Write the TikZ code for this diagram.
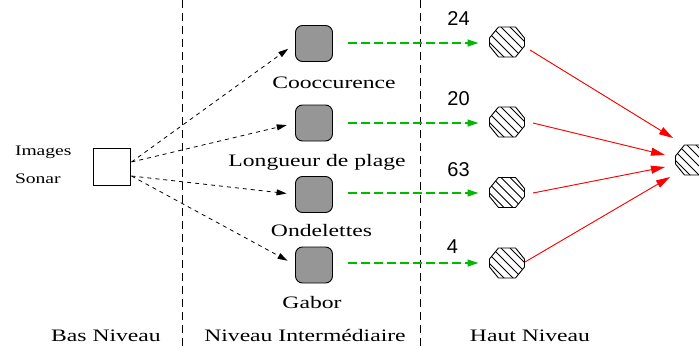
\documentclass[tikz,border=0pt]{standalone}
\usepackage{fontspec}
\setmainfont{Liberation Serif}[FakeStretch=1.35]
\newfontfamily\numfont{Liberation Sans}
\usetikzlibrary{arrows.meta,calc}
\definecolor{greyfill}{RGB}{150,150,150}
\definecolor{arrowgreen}{RGB}{0,185,0}
\definecolor{arrowred}{RGB}{255,0,0}
\begin{document}
\begin{tikzpicture}[x=1pt,y=-1pt,
  every node/.style={inner sep=0pt, outer sep=0pt},
  lbl/.style={font=\fontsize{17.5}{20}\selectfont, anchor=base},
  smalllbl/.style={font=\fontsize{14.5}{17}\selectfont, anchor=base west},
  num/.style={font=\numfont\fontsize{20}{22}\selectfont, anchor=base},
  srcbox/.style={draw=black, line width=0.9pt, fill=white, minimum width=37pt, minimum height=37pt},
  featbox/.style={draw=black, line width=0.9pt, fill=greyfill, rounded corners=7pt, minimum width=37pt, minimum height=36pt},
  hatchoct/.style={minimum width=37pt, minimum height=32pt,
    path picture={
      \begin{scope}[shift={(path picture bounding box.center)}]
        \begin{scope}
          \clip (-8.5,-15) -- (8.5,-15) -- (17.5,-4) -- (17.5,4) -- (8.5,15) -- (-8.5,15) -- (-17.5,4) -- (-17.5,-4) -- cycle;
          \foreach \k in {-5,...,5} {\draw[line width=0.9pt] (\k*9-25,-25) -- ++(50,50);}
        \end{scope}
        \draw[line width=0.9pt, line join=round] (-8.5,-15) -- (8.5,-15) -- (17.5,-4) -- (17.5,4) -- (8.5,15) -- (-8.5,15) -- (-17.5,4) -- (-17.5,-4) -- cycle;
      \end{scope}
    }},
  sepline/.style={line width=0.8pt, dash pattern=on 8pt off 5pt},
  blackarrow/.style={line width=0.8pt, dash pattern=on 4pt off 4pt, -{Triangle[length=10pt,width=6pt]}, shorten >=9pt},
  greenarrow/.style={draw=arrowgreen, fill=arrowgreen, line width=1.2pt, dash pattern=on 9pt off 4pt, -{Triangle[length=11pt,width=7pt]}},
  redarrow/.style={draw=arrowred, fill=arrowred, line width=0.9pt, -{Triangle[length=14pt,width=8pt]}}
]
\path[use as bounding box, clip] (0,0) rectangle (699,348);

% separators
\coordinate (sepAtop) at (182,0);
\coordinate (sepAbot) at (182,348);
\coordinate (sepBtop) at (420,0);
\coordinate (sepBbot) at (420,348);
\draw[sepline] (sepAtop) -- (sepAbot);
\draw[sepline] (sepBtop) -- (sepBbot);

% source
\node[smalllbl] (img1) at (15,155) {Images};
\node[smalllbl] (img2) at (15,183) {Sonar};
\node[srcbox] (src) at (111.5,166.5) {};

% feature extractors
\node[featbox] (s1) at (314,43.5) {};
\node[featbox] (s2) at (314,123) {};
\node[featbox] (s3) at (314,194.5) {};
\node[featbox] (s4) at (314,265) {};

\node[lbl] (l1) at (334,88) {Cooccurence};
\node[lbl] (l2) at (317,166) {Longueur de plage};
\node[lbl] (l3) at (321.5,236) {Ondelettes};
\node[lbl] (l4) at (312,308) {Gabor};

% high level
\node[hatchoct] (o1) at (507,42) {};
\node[hatchoct] (o2) at (507,122) {};
\node[hatchoct] (o3) at (507,192.5) {};
\node[hatchoct] (o4) at (507,263) {};
\node[hatchoct] (f) at (693,160) {};

\node[num] (n1) at (458.5,25) {24};
\node[num] (n2) at (458.5,105) {20};
\node[num] (n3) at (458.5,176) {63};
\node[num] (n4) at (452.5,253) {4};

% bottom labels
\node[lbl] (b1) at (106,341) {Bas Niveau};
\node[lbl] (b2) at (305,341) {Niveau Intermédiaire};
\node[lbl] (b3) at (530,341) {Haut Niveau};

% black dashed arrows
\draw[blackarrow] ($(src.east)+(1.5,-4.5)$) -- (s1.west);
\draw[blackarrow] ($(src.east)+(1.5,-4.5)$) -- (s2.west);
\draw[blackarrow] ($(src.east)+(1.5,9.5)$) -- (s3.west);
\draw[blackarrow] ($(src.east)+(1.5,9.5)$) -- (s4.west);

% green arrows
\draw[greenarrow] ($(s1.east)+(15.5,-0.5)$) -- ($(o1.west |- s1.east)+(-10,-0.5)$);
\draw[greenarrow] ($(s2.east)+(15.5,0)$) -- ($(o2.west |- s2.east)+(-10,0)$);
\draw[greenarrow] ($(s3.east)+(15.5,-1.5)$) -- ($(o3.west |- s3.east)+(-10,-1.5)$);
\draw[greenarrow] ($(s4.east)+(15.5,-2)$) -- ($(o4.west |- s4.east)+(-10,-2)$);

% red arrows
\draw[redarrow] ($(o1)+(23,8)$) -- ($(f)+(-20,-22)$);
\draw[redarrow] ($(o2)+(26,1)$) -- ($(f)+(-28,-5)$);
\draw[redarrow] ($(o3)+(26,0.5)$) -- ($(f)+(-28,7)$);
\draw[redarrow] ($(o4)+(18,-1)$) -- ($(f)+(-23,17)$);
\end{tikzpicture}
\end{document}
